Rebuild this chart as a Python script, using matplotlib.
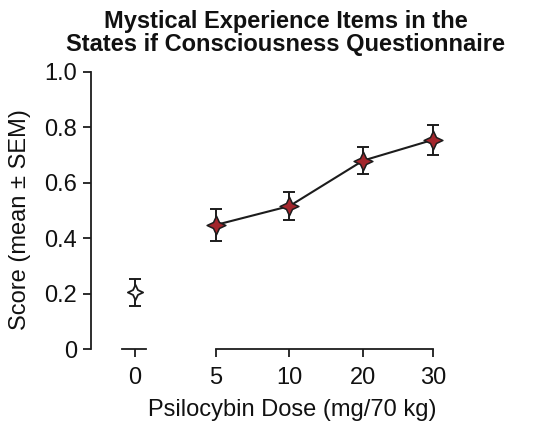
import matplotlib

matplotlib.use("Agg")
import matplotlib.pyplot as plt
import numpy as np
from matplotlib.path import Path

plt.rcParams["font.family"] = ["Liberation Sans", "DejaVu Sans"]

doses = ["0", "5", "10", "20", "30"]
x_pos = [0, 1.1, 2.1, 3.1, 4.05]
score = [0.204, 0.448, 0.516, 0.680, 0.755]
sem = [0.048, 0.058, 0.050, 0.050, 0.053]

# four-pointed star marker
ang = np.deg2rad(np.arange(0, 360, 45) + 90)
rad = np.where(np.arange(8) % 2 == 0, 1.0, 0.45)
verts = np.column_stack([rad * np.cos(ang), rad * np.sin(ang)])
star = Path(np.vstack([verts, verts[:1]]), closed=True)

fig = plt.figure(figsize=(5.33, 4.21), dpi=100)
ax = fig.add_axes([91 / 533, 1 - 349 / 421, (460 - 91) / 533, 277 / 421])

red = "#a3262c"
ink = "#1c1c1c"
ax.errorbar(x_pos[0], score[0], yerr=sem[0], fmt="none", ecolor=ink,
            elinewidth=1.4, capsize=4.5, capthick=1.4, clip_on=False)
ax.plot(x_pos[0], score[0], marker=star, ms=11, mfc="white", mec=ink,
        mew=1.3, ls="none", clip_on=False, zorder=3)
ax.errorbar(x_pos[1:], score[1:], yerr=sem[1:], fmt="none", ecolor=ink,
            elinewidth=1.4, capsize=4.5, capthick=1.4, clip_on=False)
ax.plot(x_pos[1:], score[1:], color=ink, lw=1.5, marker=star, ms=13.5,
        mfc=red, mec=ink, mew=1.1, clip_on=False, zorder=3)

ax.set_xlim(-0.6, 4.42)
ax.set_ylim(0, 1)
ax.set_yticks([0, 0.2, 0.4, 0.6, 0.8, 1.0])
ax.set_yticklabels(["0", "0.2", "0.4", "0.6", "0.8", "1.0"])
ax.set_xticks(x_pos)
ax.set_xticklabels(doses)

for s in ["top", "right", "bottom"]:
    ax.spines[s].set_visible(False)
ax.spines["left"].set_linewidth(1.3)
ax.spines["left"].set_color(ink)

# broken x axis: short piece for placebo, long piece for doses
ax.plot([-0.18, 0.15], [0, 0], color=ink, lw=1.3, clip_on=False)
ax.plot([x_pos[1], x_pos[-1]], [0, 0], color=ink, lw=1.3, clip_on=False)

ax.tick_params(axis="both", labelsize=17, width=1.3, length=6, color=ink,
               labelcolor="#111111")
ax.tick_params(axis="x", pad=7)
ax.tick_params(axis="y", pad=4)

fig.text(292 / 533, 1 - 410 / 421, "Psilocybin Dose (mg/70 kg)",
         ha="center", va="center", fontsize=17, color="#111111")
fig.text(20 / 533, 1 - 220 / 421, "Score (mean ± SEM)", rotation=90,
         ha="center", va="center", fontsize=17, color="#111111")

fig.text(286 / 533, 1 - 33 / 421, "Mystical Experience Items in the\n"
         "States if Consciousness Questionnaire", ha="center", va="center",
         fontsize=17, fontweight="bold", linespacing=1.05, color="#111111")

fig.savefig("out.png", dpi=100)
